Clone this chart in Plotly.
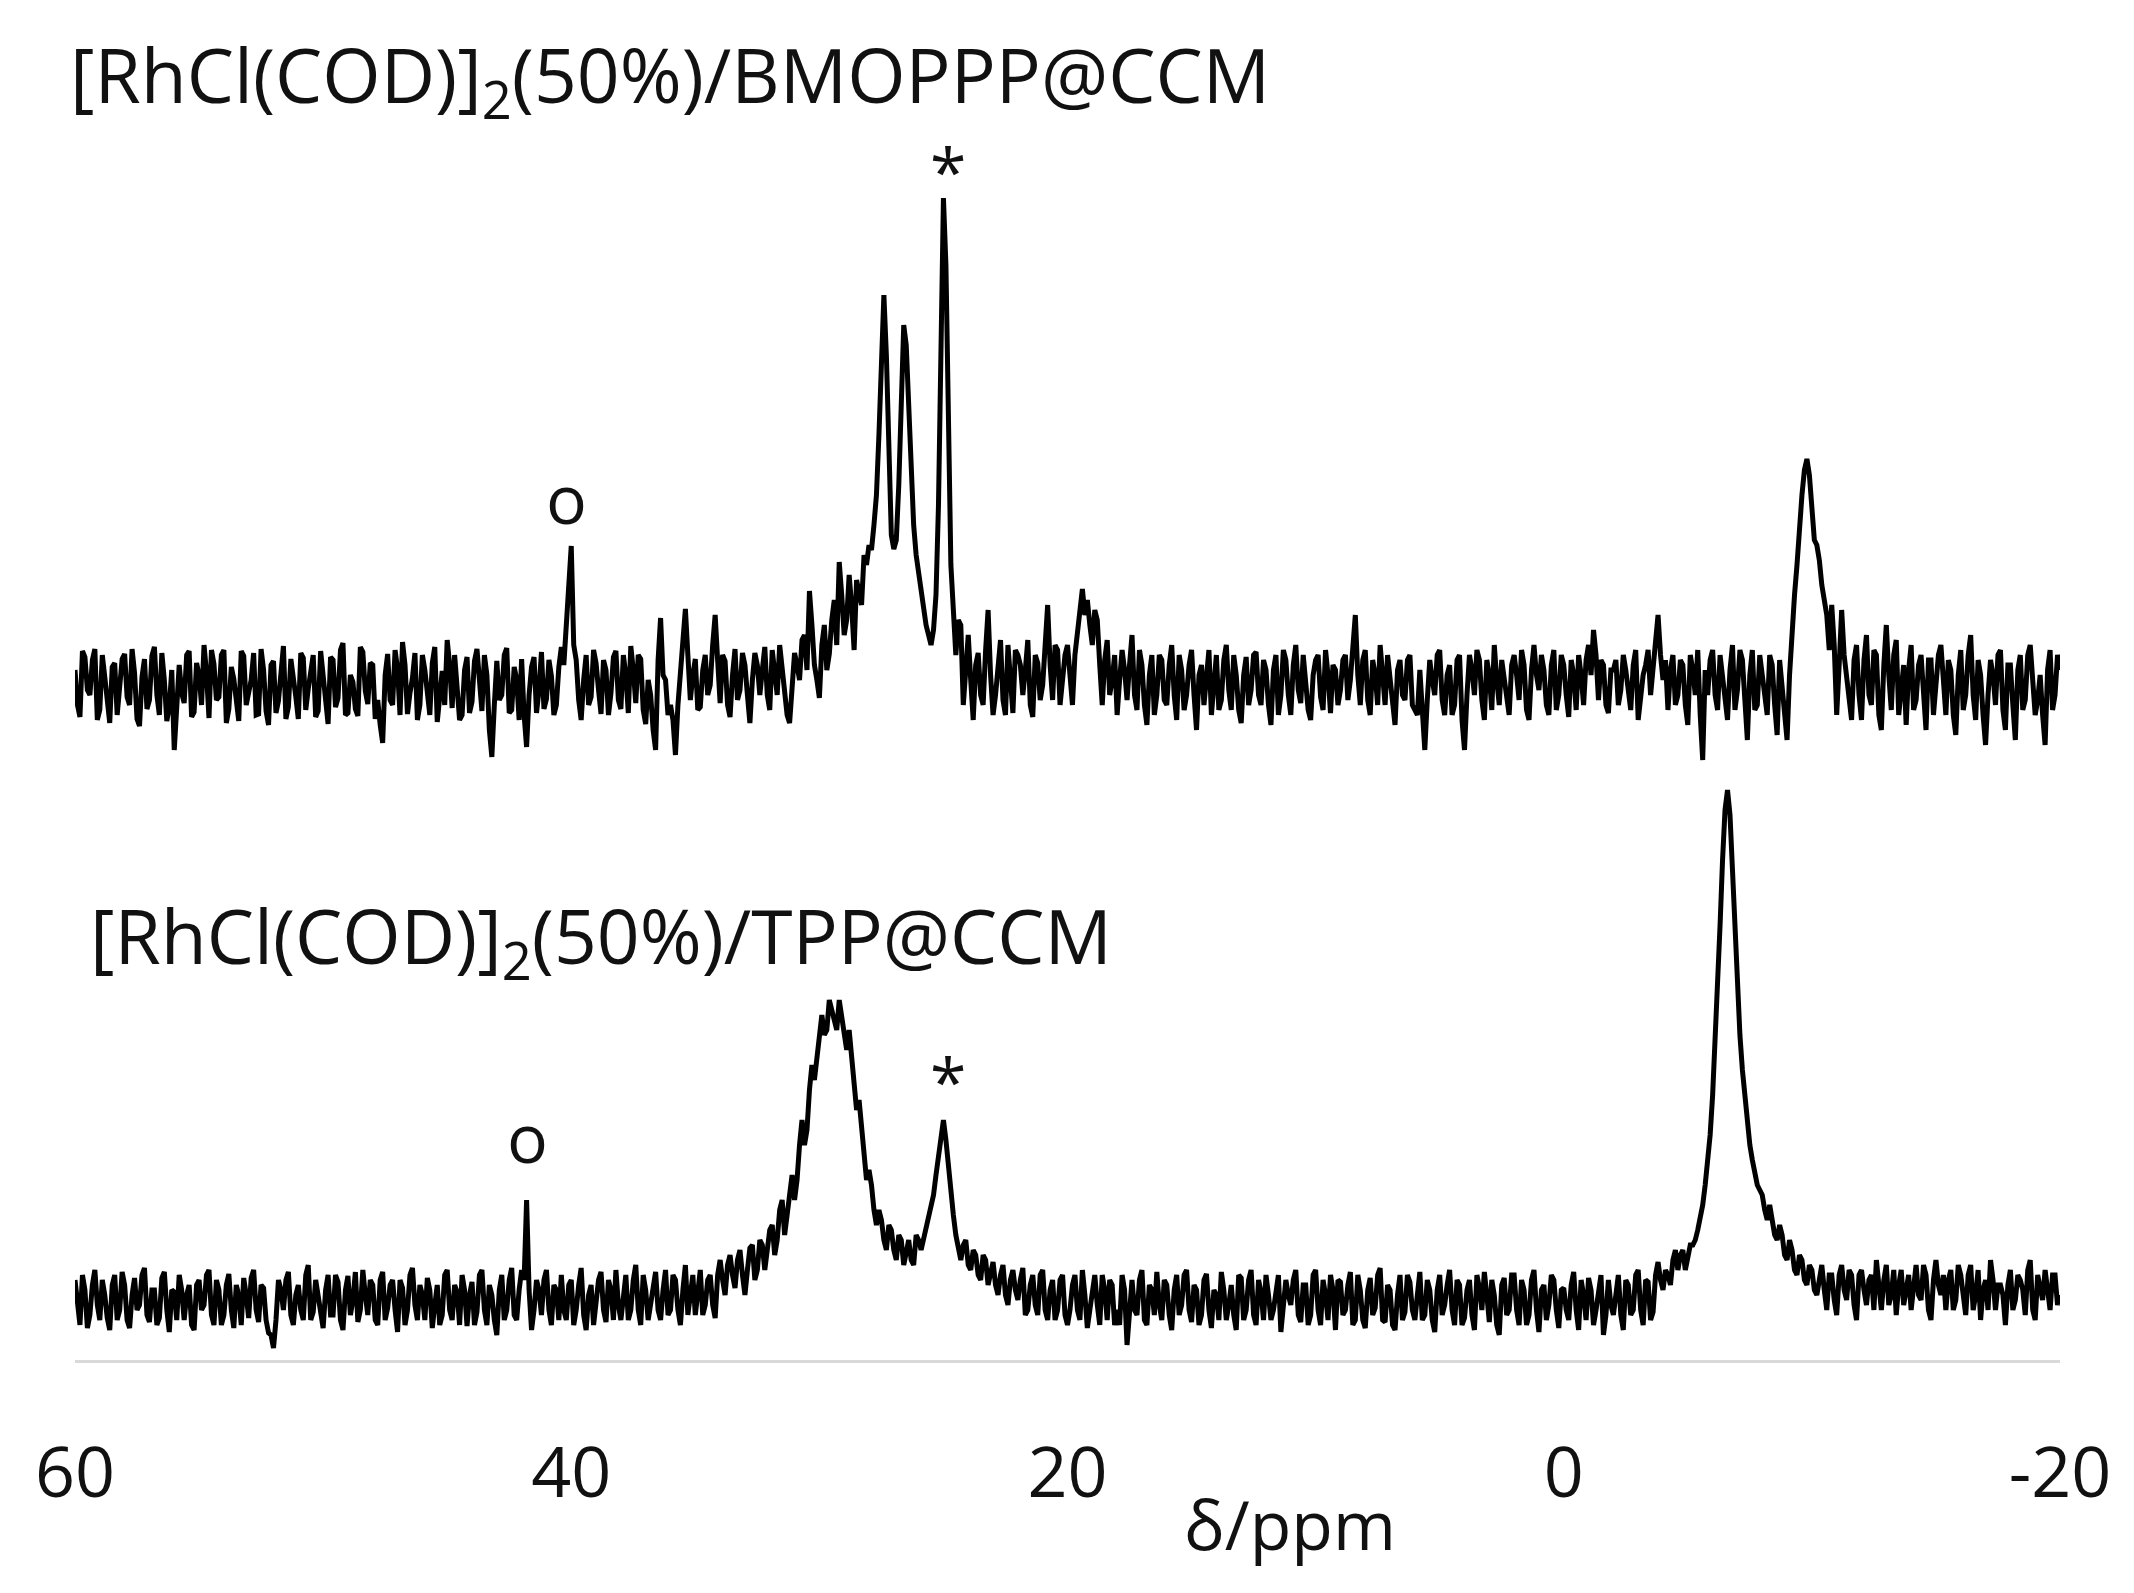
import numpy as np
import plotly.graph_objects as go

# chemical shift grid (ppm), 60 -> -20 in 0.1 ppm steps
ppm = np.round(np.linspace(60, -20, 801), 2)

# upper spectrum [RhCl(COD)]2(50%)/BMOPPP@CCM, values at 60.0, 59.8, ... -20.0
upper = [
    1.5, -3.2, 2.8, -1.0, 3.6, -2.5, 0.8, -3.8, 2.2, -0.6,
    3.1, -2.0, 1.2, -4.1, 2.6, -1.5, 3.8, -3.0, 0.5, -2.2,
    -6.5, 2.0, -1.8, 3.4, -2.7, 1.0, 4.0, -3.3, 2.1, -1.2,
    3.5, -2.4, 0.6, -3.6, 2.9, -0.8, 3.2, -2.9, 1.5, -4.0,
    2.4, -1.6, 3.9, -2.2, 0.9, -3.4, 2.7, -0.4, 3.0, -2.6,
    1.1, -3.9, 2.5, -1.3, 4.2, -2.8, 0.3, -3.1, 3.3, -1.9,
    2.0, -1.5, -5.8, 3.1, -2.0, 1.6, 4.3, -2.9, 0.7, -3.5,
    3.0, -1.1, 2.2, -3.7, 1.4, 4.5, -2.3, 0.2, -3.0, 2.8,
    -1.7, 3.6, -2.6, 1.0, -7.2, 2.4, -1.0, 3.7, -2.5, 0.6,
    2.6, -6.2, 1.8, -2.8, 3.3, -1.4, 0.9, -2.0, 3.8, 6.0,
    13.9, 2.5, -3.5, 3.0, -1.2, 2.2, -2.9, 1.5, -0.8, 3.4,
    -2.4, 1.0, 3.9, -1.8, 2.6, -3.9, -1.0, -6.5, 6.7, 0.5,
    -2.0, -7.0, 1.5, 7.6, -1.5, 2.6, -2.2, 3.0, 0.0, 7.0,
    -1.8, 2.4, -3.2, 3.6, -0.5, 2.0, -3.8, 3.2, -1.0, 3.8,
    -2.5, 1.5, 4.0, -1.5, -3.8, 3.2, 0.5, 5.0, 9.4, 2.0,
    -1.3, 6.0, 3.1, 8.5, 12.3, 5.0, 11.0, 3.5, 9.0, 13.0,
    14.0, 16.0, 25.0, 39.0, 22.0, 13.6, 20.0, 36.0, 27.0, 16.0,
    11.0, 8.0, 5.0, 5.5, 18.0, 48.7, 22.0, 7.5, 6.5, -2.0,
    5.0, -3.5, 3.2, -2.0, 7.5, -3.0, 2.0, -1.5, 4.0, -2.8,
    3.0, -1.0, 4.5, -3.2, 2.2, 0.0, 8.0, -1.5, 3.5, 1.0,
    4.0, -2.0, 5.5, 9.6, 8.5, 4.0, 6.5, -2.0, 4.5, 0.5,
    -3.0, 3.5, -1.5, 5.0, -2.5, 2.0, -4.0, 3.0, -1.0, 2.5,
    -2.0, 4.0, -3.5, 1.5, -1.0, 3.5, -4.5, 2.0, 0.5, -3.0,
    3.0, -1.5, 4.0, -2.5, 1.0, -3.8, 2.8, -0.5, 3.3, -2.0,
    1.5, -4.0, 3.0, -1.0, 2.5, -3.0, 4.0, -1.8, 0.8, -3.5,
    2.5, -1.2, 3.5, -2.8, 1.5, -0.5, 3.0, 0.5, 7.0, -2.0,
    3.5, -3.0, 1.0, 4.0, -2.0, 0.5, -4.0, 2.5, -1.5, 3.0,
    -2.5, 1.5, -6.5, 2.5, -1.0, 3.5, -3.0, 2.0, -2.0, 3.0,
    -6.5, 3.0, -1.0, 2.5, -3.5, 1.0, 4.0, -2.0, 0.5, -3.0,
    3.0, -1.5, 2.0, -3.5, 4.0, -0.5, 1.5, -3.0, 3.5, -1.0,
    2.0, -3.2, 1.0, 3.0, -2.0, 4.0, 5.5, -1.5, 2.0, -2.8,
    1.5, -2.0, 3.0, -1.0, 2.0, -3.5, 1.0, 3.5, 2.0, 7.0,
    0.5, -2.5, 3.0, -1.0, 2.0, -4.0, 1.5, 3.5, -7.5, -1.0,
    3.5, -2.5, 1.0, -3.5, 4.0, -0.5, 2.5, -5.5, 3.5, -2.0,
    1.0, -3.0, 2.0, -5.0, 0.0, -5.5, 6.0, 12.0, 19.0, 22.6,
    17.0, 14.0, 10.0, 7.0, 8.0, -3.0, 7.5, 1.0, -3.5, 4.0,
    -3.5, 5.0, -2.0, 3.0, -4.5, 6.0, -2.5, 4.5, -1.0, -4.0,
    4.0, -1.5, 3.0, -4.5, 2.5, -0.5, 4.0, -3.0, 1.5, -5.0,
    3.5, -1.0, 5.0, -3.5, 1.0, -6.0, 2.5, -2.0, 3.5, -4.5,
    2.0, -5.5, 3.0, -1.5, 4.0, -3.0, 1.0, -6.0, 3.5, -1.0,
    1.5,
]
# upper spectrum values at 59.9, 59.7, ... -19.9
upper_mid = [
    -2.0, 3.4, -0.5, 2.5, -3.5, 3.0, -2.2, 1.8, -3.0, 2.6,
    -1.2, 3.6, -3.4, 0.8, -2.4, 2.9, -1.0, 3.2, -3.6, 1.5,
    -3.0, -0.8, 3.0, -3.2, 2.2, -2.0, 1.2, 3.5, -1.5, 3.0,
    -3.8, 1.8, -1.5, 3.4, -2.0, 0.5, -3.0, 3.6, -2.6, 2.0,
    -2.8, 1.2, -3.4, 2.6, -1.2, 3.2, -2.5, 1.5, -3.2, 3.4,
    -1.0, 2.8, -2.2, 3.5, -3.0, 1.0, -2.4, 3.8, -0.6, 2.2,
    -3.4, -4.0, 1.0, -1.5, 3.5, -3.0, 2.0, -0.8, 3.2, -2.0,
    1.5, -3.0, 3.8, -1.0, -2.0, 2.0, 3.0, -3.5, 1.5, -2.8,
    2.4, -0.5, 3.0, -4.5, -2.0, -1.5, 3.0, -2.8, 1.8, -3.5,
    -3.0, -1.0, 2.8, -0.5, -2.4, 2.5, -3.0, 1.8, 2.0, 9.0,
    4.0, -1.5, 0.5, -2.0, 3.5, -0.5, 2.5, -3.0, 2.8, -1.5,
    3.0, -2.8, 1.5, 3.0, -2.5, 0.5, -4.5, 2.5, 1.0, -3.0,
    -3.5, -2.0, 4.5, 3.0, 1.0, -2.5, 1.5, -1.0, 4.0, 2.5,
    3.0, -2.0, 1.0, -1.5, 3.2, -1.0, 0.5, 2.0, 1.5, -1.0,
    3.5, -1.0, 1.5, -3.0, 0.5, 2.0, 4.5, 1.5, 6.0, 0.5,
    4.0, 1.5, 6.5, 4.0, 9.0, 6.5, 8.0, 10.5, 8.0, 12.0,
    13.5, 19.0, 33.0, 33.0, 15.0, 14.5, 29.0, 34.0, 20.0, 13.0,
    9.5, 6.0, 4.0, 9.0, 34.0, 42.0, 12.0, 3.0, 6.0, 2.0,
    0.5, 2.0, -1.0, 3.5, 1.0, -1.0, 4.5, -3.0, 1.0, 3.5,
    2.0, 1.5, -2.0, 3.0, -1.5, 4.0, 2.0, 4.0, -2.0, 3.0,
    1.0, 3.0, 8.0, 7.0, 6.0, 7.5, 2.0, 2.5, -1.0, 3.0,
    0.5, 1.5, 2.0, -1.0, 3.5, -2.0, 1.0, -3.0, 3.0, -1.5,
    2.0, -1.0, 3.0, -2.5, 2.0, -1.0, 1.0, -2.0, 3.5, 1.0,
    -2.5, 2.5, -0.5, 3.0, -2.5, 1.0, -2.0, 3.0, -1.0, 2.5,
    -2.0, 1.5, -3.0, 3.5, -1.0, 2.0, -0.5, 3.0, -2.5, 1.0,
    3.0, -2.5, 1.0, 2.0, -2.0, 2.5, -1.5, 4.0, 1.0, 2.5,
    -1.5, 2.5, -2.0, 1.0, 3.0, -2.5, 1.5, -1.0, 2.5, -2.0,
    -3.0, -2.0, -1.5, 0.5, 3.0, -1.5, 1.0, -3.0, 2.5, -3.5,
    -1.0, 1.5, 3.5, -1.5, 2.5, -2.5, 0.5, 2.5, -2.0, 2.0,
    1.0, 3.5, -2.5, 1.5, 1.0, 3.0, -2.0, 2.0, -2.5, 3.0,
    -1.0, 2.5, -2.5, 1.0, 2.5, 1.0, 3.0, 2.5, -2.0, 1.5,
    2.5, -0.5, 1.5, -2.5, 3.5, -0.5, 2.0, -1.0, 4.5, 3.0,
    2.5, 1.5, -2.0, 2.5, -2.0, 3.0, -1.0, -3.0, 1.5, 2.5,
    -1.0, 3.0, -2.0, 1.5, -2.5, 3.5, -1.5, 1.0, -2.5, 3.0,
    -1.0, 3.0, -2.0, 2.5, -3.0, 1.0, 9.0, 16.0, 21.5, 21.0,
    14.5, 12.5, 8.0, 3.5, 4.0, 2.0, 3.0, -2.0, 2.5, -1.0,
    2.5, -1.0, 3.5, -3.0, 2.0, 1.0, 3.0, -3.0, 2.0, 1.5,
    -2.5, 2.0, -1.5, 2.5, -3.0, 3.0, -0.5, 2.5, -3.0, 1.0,
    -2.5, 3.0, -1.0, 2.5, -3.0, -1.0, 1.0, 3.0, -2.5, 2.0,
    -2.0, 1.5, -2.5, 3.0, 0.5, -1.5, -3.0, 1.5, -2.5, 3.0,
]

# lower spectrum [RhCl(COD)]2(50%)/TPP@CCM, values at 60.0, 59.8, ... -20.0
lower = [
    2.0, -2.5, 1.0, -1.5, 3.0, -2.0, 0.5, -3.0, 2.5, -1.0,
    1.5, -2.8, 2.2, -0.5, 3.2, -2.2, 1.0, -1.8, 2.8, -3.2,
    0.8, 2.5, -2.0, 1.5, -3.0, 2.0, -0.5, 3.0, -2.5, 1.0,
    -1.5, 2.6, -2.8, 0.5, 2.2, -1.8, 3.0, -2.2, 1.2, -3.3,
    -4.8, 2.0, -1.0, 2.8, -2.5, 1.5, -2.0, 3.5, -1.2, 0.5,
    -2.8, 2.5, -1.5, 1.8, -3.0, 2.4, 0.0, -2.2, 3.0, -1.5,
    1.5, -2.5, 2.8, -0.8, 2.0, -3.2, 1.2, -1.0, 3.2, -2.0,
    0.5, 2.2, -2.8, 1.5, -1.5, 3.0, -2.0, 0.8, 2.5, -2.6,
    1.8, -1.2, 3.0, -2.5, 0.5, -3.5, 2.5, -1.0, 3.2, -2.0,
    3.0, 10.0, -3.0, 2.0, -1.5, 3.0, -2.5, 1.0, 2.5, -2.0,
    2.0, -1.0, 3.2, -3.0, 1.5, -0.5, 2.8, -2.2, 1.0, 3.0,
    -2.0, 2.5, -1.0, 3.5, -2.5, 1.0, -0.5, 2.8, -2.0, 3.0,
    -1.0, 2.0, -2.5, 3.5, 0.5, -1.5, 3.0, -0.5, 2.5, -1.8,
    4.0, 0.5, 4.5, 1.2, 5.0, 0.5, 5.2, 2.0, 6.0, 3.0,
    7.0, 4.5, 9.0, 6.5, 11.0, 10.0, 15.5, 15.5, 21.0, 22.0,
    27.0, 26.5, 30.0, 27.5, 30.0, 27.0, 27.0, 22.0, 20.0, 14.5,
    13.0, 9.0, 9.0, 6.0, 7.5, 5.0, 6.5, 3.5, 6.0, 3.5,
    6.0, 6.0, 8.5, 10.5, 14.5, 18.0, 13.0, 8.5, 5.5, 5.5,
    3.5, 5.0, 2.5, 4.5, 1.5, 3.8, 0.5, 3.5, -0.5, 3.0,
    0.0, 3.2, -1.0, 2.5, -1.5, 3.0, -2.0, 2.0, -1.0, 2.5,
    -2.5, 1.5, -1.0, 3.0, -2.8, 1.0, -0.5, 2.5, -2.0, 1.5,
    -1.0, 2.5, -4.5, 2.0, -1.5, 3.0, -2.5, 1.0, 2.8, -2.0,
    1.5, -3.0, 2.5, -0.5, 3.0, -2.2, 1.0, -1.5, 2.6, -2.8,
    0.5, 2.8, -2.0, 1.5, -3.0, 2.2, -1.0, 3.0, -2.5, 0.8,
    2.5, -2.0, 1.2, -3.2, 2.0, -0.5, 3.0, -2.2, 1.5, -1.5,
    3.0, -2.5, 0.5, 2.5, -3.0, 1.8, -1.0, 2.8, -2.0, 1.0,
    -2.8, 2.2, -0.8, 3.2, -2.2, 1.0, -3.0, 2.5, -1.2, 1.8,
    -2.0, 2.8, -1.5, 1.0, -3.2, 2.5, -0.5, 3.0, -2.5, 1.5,
    -1.8, 2.0, -3.0, 1.2, 2.8, -2.2, 0.5, -3.5, 2.2, -1.0,
    2.5, -2.5, 1.0, -1.5, 3.0, -3.2, 1.5, -0.5, 2.0, -2.8,
    1.2, -2.0, 2.8, -3.0, 0.5, 2.2, -2.5, 1.0, -3.5, 2.0,
    -1.5, 2.5, -3.0, 1.5, -1.0, 3.0, -2.5, 1.8, -1.2, 3.8,
    1.0, 2.5, 4.0, 3.0, 5.0, 4.0, 5.5, 7.0, 9.5, 13.5,
    20.5, 31.0, 44.0, 51.0, 43.0, 31.0, 23.0, 17.5, 14.0, 11.5,
    10.5, 8.0, 8.0, 6.0, 6.5, 4.0, 5.0, 2.5, 4.0, 1.5,
    3.0, 0.5, 3.5, -1.0, 2.5, -1.5, 3.5, 0.0, 2.5, -2.0,
    3.0, -0.5, 2.5, 4.0, -1.0, 3.5, 0.5, -1.5, 3.0, 1.0,
    -1.0, 3.5, 0.0, 2.5, -2.0, 4.0, 0.5, -1.0, 3.0, 0.0,
    2.5, -1.5, 3.5, 0.5, -2.0, 2.0, 4.0, -1.0, 1.5, -2.5,
    3.0, 0.0, 2.0, -1.5, 4.0, -2.0, 1.5, 3.0, -1.0, 2.5,
    0.5,
]
# lower spectrum values at 59.9, 59.7, ... -19.9
lower_mid = [
    -1.0, 2.5, -2.8, 1.5, -0.5, 2.0, -1.8, 1.5, -2.0, 2.8,
    -2.0, 0.5, -1.0, 2.5, -1.5, 1.0, -2.5, 2.2, -1.0, 1.0,
    -2.0, 1.0, 0.5, -2.5, 1.5, -1.0, 2.5, -1.5, 2.0, -2.5,
    1.5, -1.0, 1.5, -2.5, 0.5, 2.2, -1.0, 1.5, -2.0, -3.5,
    -2.0, 1.0, 2.0, -1.5, 0.5, -1.0, 2.5, -2.0, 2.0, -1.5,
    1.0, -1.5, 2.5, -2.0, 1.0, -1.5, 2.8, -1.0, 0.5, 2.0,
    -2.0, 2.0, -2.0, 1.5, -1.0, 2.0, -2.5, 2.5, -0.5, 1.5,
    -2.0, 1.0, -0.5, -2.5, 2.5, -1.0, 1.5, -2.5, 1.0, 0.5,
    -2.5, 2.5, -1.0, 1.5, -2.0, 1.0, -2.0, 2.0, -1.5, 1.0,
    2.0, 1.0, -1.0, 1.0, 2.0, -1.0, 1.5, -2.0, -1.0, 1.5,
    -2.5, 1.5, -1.5, 0.5, -2.5, 2.0, -1.0, 2.0, -2.0, -0.5,
    0.5, -2.0, 2.0, -1.0, 2.5, -2.0, 1.5, -1.0, 1.0, -1.5,
    2.5, -1.0, 1.0, -1.5, 2.5, 1.0, -1.5, 2.0, -0.5, 2.5,
    2.0, 3.5, 2.5, 4.0, 2.5, 3.0, 5.5, 3.0, 5.5, 5.0,
    7.5, 6.0, 10.0, 8.5, 12.5, 12.0, 18.0, 17.0, 23.5, 24.0,
    28.5, 27.0, 29.0, 27.0, 28.5, 25.0, 24.5, 19.0, 17.5, 12.0,
    11.5, 7.5, 8.0, 5.0, 7.0, 4.0, 6.0, 5.0, 4.0, 6.5,
    5.0, 7.5, 9.0, 12.5, 16.5, 16.0, 10.5, 6.5, 4.0, 6.0,
    3.0, 4.5, 2.0, 4.0, 2.5, 1.5, 2.5, 0.5, 2.0, 1.0,
    2.0, -1.5, 1.5, -0.5, 2.5, -1.0, 1.0, -2.0, 2.0, -1.5,
    -1.0, 2.5, -2.0, 0.5, -1.0, 2.5, -2.5, 1.0, 2.0, -2.5,
    -2.5, 1.0, -1.0, -1.0, 2.0, -2.0, 1.5, -1.5, -0.5, 2.0,
    -1.5, 1.0, -1.5, 2.5, -1.0, 1.5, -2.5, 2.0, -1.0, 1.0,
    -2.0, 1.0, -0.5, -1.5, 2.5, -2.0, 2.0, -1.5, 2.0, -2.0,
    0.5, -1.0, 2.5, -1.0, 0.5, 2.0, -1.5, 1.5, -2.5, 2.5,
    -1.0, 2.0, -2.0, 1.0, 2.0, -1.5, 1.5, -2.5, 2.5, -2.0,
    1.0, -1.5, 2.5, -2.0, 1.5, -2.5, 0.5, -2.0, 2.5, -1.0,
    0.5, -2.0, 2.0, -2.0, 1.0, -1.5, 1.5, -1.0, 2.0, -2.5,
    1.0, -1.5, 2.5, -1.0, 0.5, 2.0, -2.5, 1.5, -1.5, 2.5,
    -1.0, 2.0, -2.5, 2.0, -1.0, 1.0, -2.0, 2.5, -1.0, 1.0,
    -1.0, 1.5, -1.0, 2.0, -2.0, 1.0, -1.0, 2.5, -1.5, -0.5,
    1.0, -1.5, 2.0, -1.5, 2.5, -1.0, 2.0, -2.0, 2.5, 2.0,
    3.0, 1.5, 5.0, 4.5, 3.0, 5.5, 6.0, 8.0, 11.5, 16.5,
    25.5, 37.5, 49.0, 48.5, 36.5, 26.5, 20.0, 15.5, 12.5, 11.0,
    9.0, 9.5, 6.5, 7.5, 4.5, 6.0, 3.0, 4.5, 2.0, 3.5,
    1.0, 2.5, 1.0, 2.5, 0.0, 2.5, 1.0, 3.0, -0.5, 2.5,
    1.0, 2.0, -1.0, 1.5, 2.0, -0.5, 3.0, 1.5, -0.5, 2.5,
    2.0, 0.5, 3.5, -1.0, 2.0, 1.5, 2.5, 2.0, -1.0, 3.5,
    0.5, 2.5, -1.0, 3.0, 1.0, -1.0, 2.0, 1.5, 0.5, 1.5,
    -1.0, 2.5, 1.0, 3.0, -1.0, 2.5, 0.0, 1.0, 2.5, -0.5,
]

tick_vals = [60, 40, 20, 0, -20]
tick_text = ["60", "40", "20", "0", "-20"]
label_upper = "[RhCl(COD)]<sub>2</sub>(50%)/BMOPPP@CCM"
label_lower = "[RhCl(COD)]<sub>2</sub>(50%)/TPP@CCM"
x_title = "δ/ppm"

upper_offset = 67.5
lower_offset = 6.0

FONT = "Open Sans"
TXT = "#111111"


def merge(main, mid):
    out = np.empty(len(main) + len(mid))
    out[0::2] = main
    out[1::2] = mid
    return out


fig = go.Figure()
fig.add_trace(go.Scatter(x=ppm, y=merge(upper, upper_mid) + upper_offset, mode="lines",
                         line=dict(color="black", width=5), showlegend=False))
fig.add_trace(go.Scatter(x=ppm, y=merge(lower, lower_mid) + lower_offset, mode="lines",
                         line=dict(color="black", width=5), showlegend=False))

# markers placed in data coordinates
data_ann = [
    dict(x=24.81, y=119.0, text="*", size=66),
    dict(x=40.21, y=86.3, text="o", size=68),
    dict(x=24.81, y=28.0, text="*", size=66),
    dict(x=41.78, y=22.4, text="o", size=68),
]
for a in data_ann:
    fig.add_annotation(x=a["x"], y=a["y"], xref="x", yref="y", text=a["text"],
                       showarrow=False, xanchor="center", yanchor="middle",
                       font=dict(family=FONT, size=a["size"], color=TXT))

# labels placed in paper coordinates
paper_ann = [
    dict(x=-0.0035, y=1.0167, text=label_upper, xanchor="left", size=75),
    dict(x=0.0065, y=0.3341, text=label_lower, xanchor="left", size=75),
    dict(x=0.612, y=-0.130, text=x_title, xanchor="center", size=68),
]
for a in paper_ann:
    fig.add_annotation(x=a["x"], y=a["y"], xref="paper", yref="paper", text=a["text"],
                       showarrow=False, xanchor=a["xanchor"], yanchor="middle",
                       font=dict(family=FONT, size=a["size"], color=TXT))

fig.update_layout(
    width=2134, height=1593,
    margin=dict(l=75, r=74, t=100, b=233),
    paper_bgcolor="white", plot_bgcolor="white",
    font=dict(family=FONT, color=TXT),
    xaxis=dict(range=[60, -20], tickvals=tick_vals, ticktext=tick_text,
               showgrid=False, zeroline=False, showline=True,
               linecolor="#d9d9d9", linewidth=3, ticks="",
               tickfont=dict(family=FONT, size=70, color=TXT),
               ticklabelstandoff=50),
    yaxis=dict(range=[0, 126], visible=False, showgrid=False, zeroline=False),
)

fig.write_html("out.html", config={"displayModeBar": False},
               post_script="document.body.style.margin='0';")
